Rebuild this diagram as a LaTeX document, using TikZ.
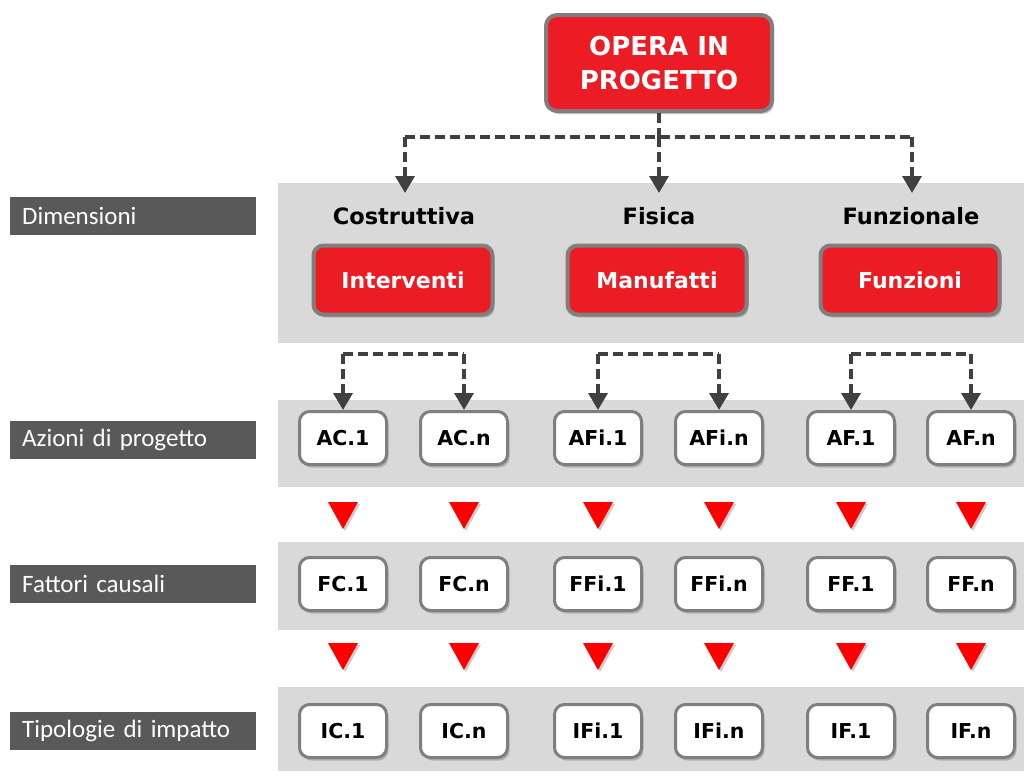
\documentclass[tikz,border=0pt]{standalone}
\usepackage{fontspec}
\setmainfont{DejaVu Sans}
\newfontfamily\lblfont{Carlito}
\usetikzlibrary{shadows,arrows.meta}
\definecolor{boxred}{HTML}{EC1C24}
\definecolor{bordergray}{HTML}{7F7F7F}
\definecolor{labelgray}{HTML}{595959}
\definecolor{bandgray}{HTML}{D9D9D9}
\definecolor{dashgray}{HTML}{404040}
\definecolor{trired}{HTML}{FF0000}
\tikzset{
  band/.style={fill=bandgray, draw=none},
  rowlabel/.style={fill=labelgray, draw=none, minimum width=246, minimum height=38, text=white, anchor=west, inner sep=0pt, font=\lblfont\fontsize{25}{27}\selectfont, text width=222, align=left},
  titlebox/.style={fill=boxred, draw=bordergray, line width=4pt, rounded corners=11pt, minimum width=226, minimum height=96, text=white, align=center, font=\bfseries\fontsize{26}{34}\selectfont, drop shadow={shadow xshift=2pt, shadow yshift=-3pt, opacity=0.45}},
  redbox/.style={fill=boxred, draw=bordergray, line width=4pt, rounded corners=10pt, minimum width=179, minimum height=69, text=white, font=\bfseries\fontsize{22}{26}\selectfont, drop shadow={shadow xshift=2pt, shadow yshift=-3pt, opacity=0.45}},
  whitebox/.style={fill=white, draw=bordergray, line width=3pt, rounded corners=10pt, minimum width=87, minimum height=53, text=black, font=\bfseries\fontsize{20.5}{24}\selectfont, drop shadow={shadow xshift=2pt, shadow yshift=-3pt, opacity=0.45}},
  dimlabel/.style={font=\bfseries\fontsize{22.5}{26}\selectfont, text=black},
  dashline/.style={draw=dashgray, line width=3.5pt, dash pattern=on 10pt off 5pt},
  dasharrow/.style={dashline, -{Triangle[width=19pt,length=17pt]}},
  tri/.style={fill=trired, draw=none, drop shadow={shadow xshift=2pt, shadow yshift=-2pt, opacity=0.4}}
}
\begin{document}
\begin{tikzpicture}[x=1pt,y=-1pt]
\useasboundingbox (0,0) rectangle (1024,771);
\fill[white] (0,0) rectangle (1024,771);
% bands
\fill[band] (278,183) rectangle (1024,343);
\fill[band] (278,400) rectangle (1024,487);
\fill[band] (278,542) rectangle (1024,630);
\fill[band] (278,687) rectangle (1024,771);
% row labels
\node[rowlabel] (ldim) at (10,216) {Dimensioni};
\node[rowlabel] (lazi) at (10,440) {Azioni di progetto};
\node[rowlabel] (lfat) at (10,584) {Fattori causali};
\node[rowlabel] (ltip) at (10,731) {Tipologie di impatto};
% title
\node[titlebox] (opera) at (659,63) {OPERA IN\\PROGETTO};
% dimensions
\node[dimlabel] (costr) at (404,216) {Costruttiva};
\node[dimlabel] (fis) at (659,216) {Fisica};
\node[dimlabel] (funz) at (911,216) {Funzionale};
\node[redbox] (interv) at (403,280) {Interventi};
\node[redbox] (manuf) at (657,280) {Manufatti};
\node[redbox] (funzioni) at (910,280) {Funzioni};
% top dashed connectors
\coordinate (tj) at (659,137);
\coordinate (tl) at (405,137);
\coordinate (tr) at (912,137);
\coordinate (al) at (405,193);
\coordinate (am) at (659,193);
\coordinate (ar) at (912,193);
\draw[dashline] (opera.south) -- (tj);
\draw[dashline] (tl) -- (tr);
\draw[dasharrow] (tl) -- (al);
\draw[dasharrow] (tj) -- (am);
\draw[dasharrow] (tr) -- (ar);
% boxes
\foreach \n/\x/\a/\f/\i in {c1/343/AC.1/FC.1/IC.1, cn/464/AC.n/FC.n/IC.n, fi1/598/AFi.1/FFi.1/IFi.1, fin/719/AFi.n/FFi.n/IFi.n, f1/851/AF.1/FF.1/IF.1, fn/971/AF.n/FF.n/IF.n}{
  \node[whitebox] (a\n) at (\x,438) {\a};
  \node[whitebox] (f\n) at (\x,584) {\f};
  \node[whitebox] (i\n) at (\x,731) {\i};
  \fill[tri] (\x-15,502) -- (\x+15,502) -- (\x,529) -- cycle;
  \fill[tri] (\x-15,643) -- (\x+15,643) -- (\x,670) -- cycle;
}
% pair dashed connectors
\foreach \l/\r in {c1/cn, fi1/fin, f1/fn}{
  \coordinate (h\l) at (a\l.north |- 0,354);
  \coordinate (h\r) at (a\r.north |- 0,354);
  \draw[dashline] (h\l) -- (h\r);
  \draw[dasharrow] (h\l) -- (a\l.north);
  \draw[dasharrow] (h\r) -- (a\r.north);
}
\end{tikzpicture}
\end{document}
